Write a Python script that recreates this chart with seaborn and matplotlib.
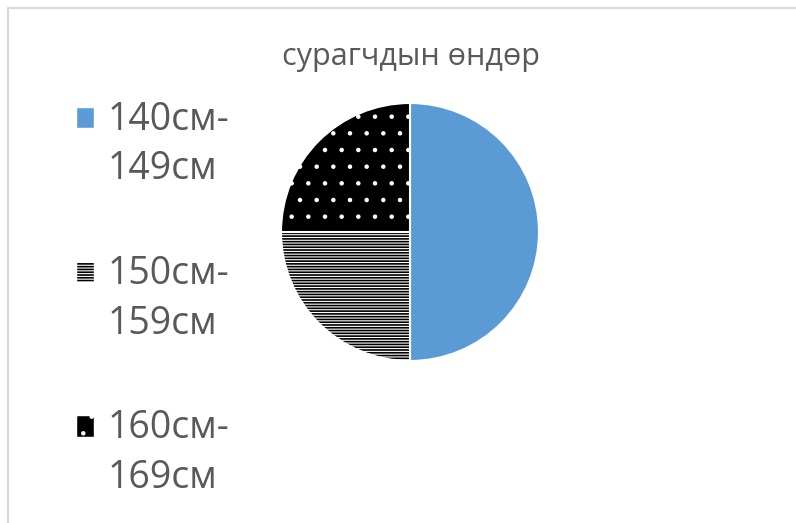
import numpy as np
import matplotlib
matplotlib.use('Agg')
from matplotlib import pyplot as plt
import matplotlib.patches as mpatches
from matplotlib.legend_handler import HandlerPatch
import seaborn as sns

# heights of the pupils
labels = ['140см-\n149см', '150см-\n159см', '160см-\n169см']
shares = [50, 25, 25]
title = 'сурагчдын өндөр'

sns.set_theme(style='white')
plt.rcParams['font.family'] = ['Open Sans', 'DejaVu Sans']
plt.rcParams['hatch.linewidth'] = 0.8

colors = ['#5b9bd5', 'black', 'black']
hatches = ['', '------', '.']
GREY = '#595959'

fig = plt.figure(figsize=(7.96, 5.23), dpi=100)
ax = fig.add_axes([281 / 796, (523 - 361) / 523, 258 / 796, 258 / 523])

wedges, _ = ax.pie(
    shares,
    colors=colors,
    hatch=hatches,
    startangle=90,
    counterclock=False,
    wedgeprops=dict(edgecolor='white', linewidth=1.5))
ax.set_xlim(-1, 1)
ax.set_ylim(-1, 1)
ax.set_aspect('equal')

fig.text(411 / 796, 1 - 57 / 523, title, ha='center', va='center',
         fontsize=22, color=GREY)


class TopSquare(HandlerPatch):
    # marker sits next to the first line of a two line label
    def _create_patch(self, legend, orig_handle, xdescent, ydescent,
                      width, height, fontsize):
        return mpatches.Rectangle((-xdescent, -ydescent + 20), width, height)

    def update_prop(self, legend_handle, orig_handle, legend):
        super().update_prop(legend_handle, orig_handle, legend)
        legend_handle.set_linewidth(0.3)


leg = fig.legend(
    wedges, labels,
    loc='upper left',
    bbox_to_anchor=(43 / 796, 1 - 67 / 523),
    frameon=False,
    fontsize=27,
    labelcolor=GREY,
    handlelength=0.46,
    handleheight=0.46,
    handletextpad=0.36,
    labelspacing=1.78,
    handler_map={mpatches.Wedge: TopSquare()})
for t in leg.get_texts():
    t.set_linespacing(1.4)

# light grey frame of the chart area
fig.add_artist(mpatches.Rectangle((8 / 796, -0.1), 1.2, 1 - 8 / 523 + 0.1,
                                  transform=fig.transFigure, fill=False,
                                  edgecolor='#d9d9d9', linewidth=1.5))

plt.savefig('out.png', dpi=100)
